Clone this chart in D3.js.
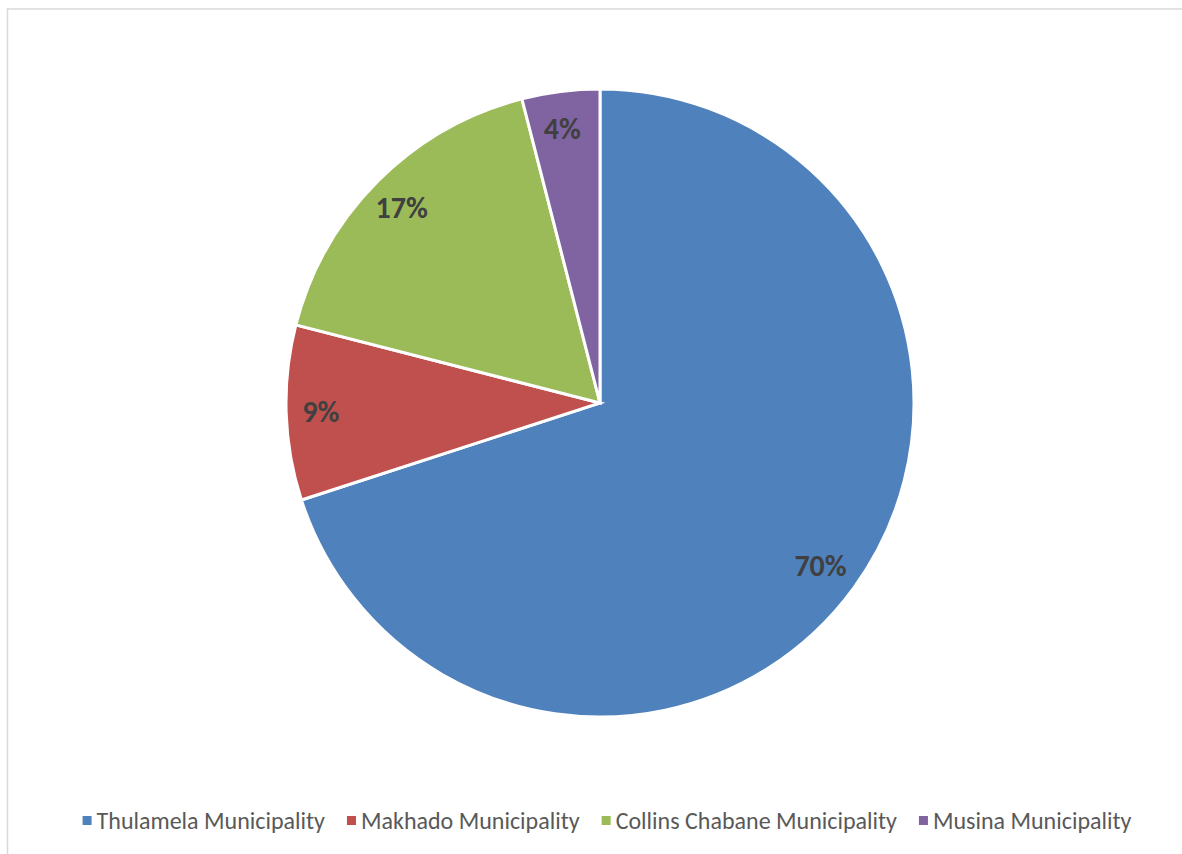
<!DOCTYPE html>
<html>
<head>
<meta charset="utf-8">
<script src="https://cdn.jsdelivr.net/npm/d3@7"></script>
<style>
	body { margin: 0; background: #fff; }
	svg { display: block; font-family: Carlito, Lato, "Open Sans", sans-serif; }
</style>
</head>
<body>
<svg id="chart"></svg>
<script>
const categories = ['Thulamela Municipality', 'Makhado Municipality', 'Collins Chabane Municipality', 'Musina Municipality'];
const values = [70, 9, 17, 4];
const colors = ['#4F81BD', '#C0504D', '#9BBB59', '#8064A2'];

const width = 1182;
const height = 854;

const svg = d3.select('#chart')
	.attr('width', width)
	.attr('height', height);

// chart area frame
svg.append('rect')
	.attr('x', 7.5).attr('y', 9)
	.attr('width', 1190).attr('height', 860)
	.attr('fill', '#fff')
	.attr('stroke', '#d9d9d9')
	.attr('stroke-width', 1.5);

const cx = 600;
const cy = 403;
const radius = 314;

const data = categories.map((c, i) => ({ name: c, value: values[i], color: colors[i] }));

const pie = d3.pie().sort(null).value(d => d.value);
const arc = d3.arc().innerRadius(0).outerRadius(radius);
const labelArc = d3.arc().innerRadius(radius * 0.88).outerRadius(radius * 0.88);

const g = svg.append('g').attr('transform', `translate(${cx},${cy})`);
const arcs = pie(data);

g.selectAll('path')
	.data(arcs)
	.enter().append('path')
	.attr('d', arc)
	.attr('fill', d => d.data.color)
	.attr('stroke', '#fff')
	.attr('stroke-width', 3)
	.attr('stroke-linejoin', 'miter');

const total = d3.sum(values);
g.selectAll('text.lbl')
	.data(arcs)
	.enter().append('text')
	.attr('class', 'lbl')
	.attr('x', d => labelArc.centroid(d)[0] - 3)
	.attr('y', d => labelArc.centroid(d)[1])
	.attr('dy', '0.35em')
	.attr('text-anchor', 'middle')
	.attr('font-size', 30)
	.attr('font-weight', 'bold')
	.attr('fill', '#404040')
	.text(d => Math.round(d.data.value / total * 100) + '%');

// legend
const legend = svg.append('g');
const legendY = 821;
const items = legend.selectAll('g')
	.data(data)
	.enter().append('g');
items.append('rect')
	.attr('width', 9).attr('height', 9)
	.attr('y', legendY - 5)
	.attr('fill', d => d.color);
items.append('text')
	.attr('x', 14)
	.attr('y', legendY)
	.attr('dy', '0.35em')
	.attr('font-size', 24)
	.attr('fill', '#595959')
	.text(d => d.name);

let xPos = 0;
const itemGap = 22;
items.each(function() {
	const w = d3.select(this).select('text').node().getComputedTextLength() + 14;
	d3.select(this).attr('transform', `translate(${xPos},0)`);
	xPos += w + itemGap;
});
const legendWidth = xPos - itemGap;
legend.attr('transform', `translate(${607 - legendWidth / 2},0)`);
</script>
</body>
</html>
